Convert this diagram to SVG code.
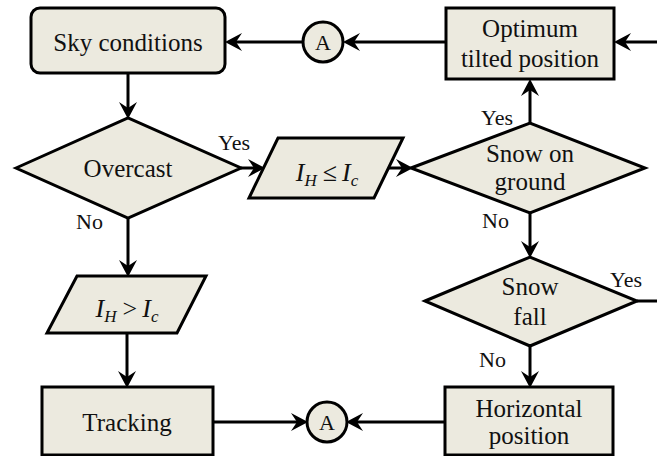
<svg xmlns="http://www.w3.org/2000/svg" width="657" height="456" viewBox="0 0 657 456">
<style>
.shape{fill:#ECEADF;stroke:#000;stroke-width:3;stroke-linejoin:miter}
text{font-family:"Liberation Serif","Times New Roman","DejaVu Serif",serif}
.t{font-size:25px;fill:#111;text-anchor:middle}
.lbl{font-size:22px;fill:#111}
.conn line{stroke:#000;stroke-width:3;fill:none}
.it{font-style:italic}
</style>
<defs>
<marker id="arr" markerUnits="userSpaceOnUse" viewBox="0 -10 18 20" markerWidth="18" markerHeight="20" refX="10" refY="0" orient="auto">
<path d="M17,0 L0,-9 L6,0 L0,9 Z" fill="#000"/>
</marker>
</defs>
<rect width="657" height="456" fill="#fff"/>
<g class="conn" id="connectors">
<line x1="302" y1="42" x2="232" y2="42" marker-end="url(#arr)"/>
<line x1="446" y1="42" x2="350" y2="42" marker-end="url(#arr)"/>
<line x1="657" y1="42" x2="621" y2="42" marker-end="url(#arr)"/>
<line x1="128" y1="73" x2="128" y2="112" marker-end="url(#arr)"/>
<line x1="241" y1="168" x2="258" y2="168" marker-end="url(#arr)"/>
<line x1="388" y1="168" x2="406" y2="168" marker-end="url(#arr)"/>
<line x1="530" y1="123" x2="530" y2="86" marker-end="url(#arr)"/>
<line x1="530" y1="213" x2="530" y2="251" marker-end="url(#arr)"/>
<line x1="637" y1="301" x2="657" y2="301"/>
<line x1="530" y1="346" x2="530" y2="381" marker-end="url(#arr)"/>
<line x1="445" y1="422" x2="353" y2="422" marker-end="url(#arr)"/>
<line x1="213" y1="422" x2="301" y2="422" marker-end="url(#arr)"/>
<line x1="128" y1="218" x2="128" y2="270" marker-end="url(#arr)"/>
<line x1="127" y1="333" x2="127" y2="381" marker-end="url(#arr)"/>
</g>
<g id="sky">
<rect class="shape" x="31" y="8" width="194" height="65" rx="9"/>
<text class="t" x="128" y="51">Sky conditions</text>
</g>
<g id="connA1">
<circle class="shape" cx="323" cy="42" r="20"/>
<text class="t" x="323" y="50" style="font-size:22px">A</text>
</g>
<g id="optimum">
<rect class="shape" x="446" y="8" width="168" height="71"/>
<text class="t" x="530" y="37">Optimum</text>
<text class="t" x="530" y="67">tilted position</text>
</g>
<g id="overcast">
<polygon class="shape" points="16,168 128,118 241,168 128,218"/>
<text class="t" x="128" y="177">Overcast</text>
</g>
<g id="ih_le">
<polygon class="shape" points="278,138 403,138 374,198 249,198"/>
<text class="t" x="327" y="181" style="font-size:26px"><tspan class="it">I</tspan><tspan class="it" font-size="17" dy="5">H</tspan><tspan dy="-5" dx="6">≤</tspan><tspan class="it" dx="5">I</tspan><tspan class="it" font-size="17" dy="5">c</tspan></text>
</g>
<g id="snowground">
<polygon class="shape" points="411,168 530,123 645,168 530,213"/>
<text class="t" x="530" y="162">Snow on</text>
<text class="t" x="530" y="190">ground</text>
</g>
<g id="ih_gt">
<polygon class="shape" points="77,276 206,276 177,333 47,333"/>
<text class="t" x="127" y="317" style="font-size:26px"><tspan class="it">I</tspan><tspan class="it" font-size="17" dy="5">H</tspan><tspan dy="-5" dx="6">&gt;</tspan><tspan class="it" dx="5">I</tspan><tspan class="it" font-size="17" dy="5">c</tspan></text>
</g>
<g id="snowfall">
<polygon class="shape" points="425,301 530,257 637,301 530,346"/>
<text class="t" x="530" y="295">Snow</text>
<text class="t" x="530" y="325">fall</text>
</g>
<g id="tracking">
<rect class="shape" x="42" y="387" width="171" height="68"/>
<text class="t" x="127" y="431">Tracking</text>
</g>
<g id="connA2">
<circle class="shape" cx="327" cy="422" r="20"/>
<text class="t" x="327" y="430" style="font-size:22px">A</text>
</g>
<g id="horizontal">
<rect class="shape" x="445" y="387" width="168" height="68"/>
<text class="t" x="529" y="417">Horizontal</text>
<text class="t" x="529" y="444">position</text>
</g>
<g id="labels">
<text class="lbl" x="218" y="150">Yes</text>
<text class="lbl" x="76" y="229">No</text>
<text class="lbl" x="481" y="125">Yes</text>
<text class="lbl" x="482" y="228">No</text>
<text class="lbl" x="610" y="287">Yes</text>
<text class="lbl" x="479" y="367">No</text>
</g>
</svg>
